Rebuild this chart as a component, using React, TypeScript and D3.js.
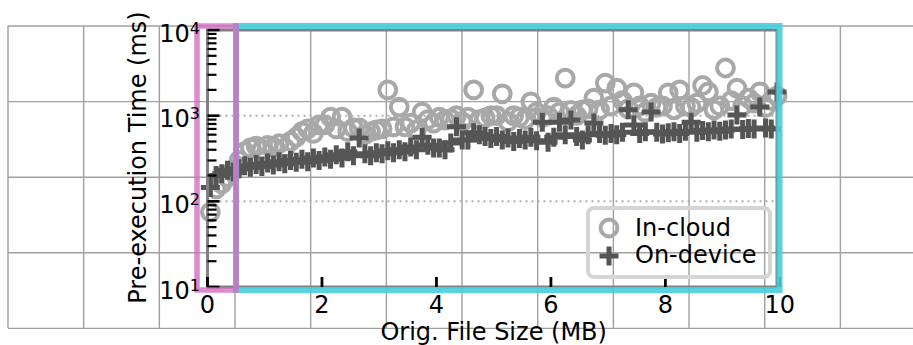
import * as d3 from "d3";

const fileSizeMB = [
  0.05, 0.15, 0.25, 0.35, 0.45, 0.55, 0.65, 0.75, 0.85, 0.95,
  1.05, 1.15, 1.25, 1.35, 1.45, 1.55, 1.65, 1.75, 1.85, 1.95,
  2.05, 2.15, 2.25, 2.35, 2.45, 2.55, 2.65, 2.75, 2.85, 2.95,
  3.05, 3.15, 3.25, 3.35, 3.45, 3.55, 3.65, 3.75, 3.85, 3.95,
  4.05, 4.15, 4.25, 4.35, 4.45, 4.55, 4.65, 4.75, 4.85, 4.95,
  5.05, 5.15, 5.25, 5.35, 5.45, 5.55, 5.65, 5.75, 5.85, 5.95,
  6.05, 6.15, 6.25, 6.35, 6.45, 6.55, 6.65, 6.75, 6.85, 6.95,
  7.05, 7.15, 7.25, 7.35, 7.45, 7.55, 7.65, 7.75, 7.85, 7.95,
  8.05, 8.15, 8.25, 8.35, 8.45, 8.55, 8.65, 8.75, 8.85, 8.95,
  9.05, 9.15, 9.25, 9.35, 9.45, 9.55, 9.65, 9.75, 9.85, 9.95,
];

const inCloudMs = [
  75, 140, 160, 190, 230, 300, 380, 420, 440, 400,
  450, 430, 470, 420, 500, 560, 650, 700, 620, 780,
  780, 960, 700, 960, 650, 720, 720, 600, 650, 680,
  700, 2000, 740, 1260, 740, 820, 680, 1100, 900, 820,
  960, 890, 920, 1000, 850, 960, 2000, 900, 940, 1000,
  1000, 1800, 850, 1000, 960, 900, 1450, 1100, 950, 1000,
  1260, 1100, 2750, 1150, 1000, 1170, 1200, 1600, 1170, 2400,
  1300, 2100, 1500, 1200, 1850, 1300, 1100, 1400, 1250, 1300,
  1850, 1170, 2000, 1300, 1250, 1400, 2250, 1900, 1170, 1300,
  3600, 1500, 2100, 1300, 1600, 1400, 1900, 1250, 1500, 1700,
];

const onDeviceMs = [
  145, 200, 210, 230, 220, 240, 260, 250, 270, 255,
  280, 265, 290, 275, 300, 285, 310, 290, 320, 300,
  330, 310, 350, 320, 380, 340, 550, 360, 340, 370,
  360, 390, 370, 400, 380, 430, 400, 560, 450, 420,
  420, 400, 480, 740, 520, 520, 630, 600, 570, 540,
  570, 520, 550, 500, 540, 520, 560, 510, 840, 490,
  560, 840, 600, 890, 570, 520, 600, 820, 620, 590,
  620, 600, 640, 1170, 780, 620, 650, 1100, 640, 610,
  630, 650, 620, 660, 840, 640, 670, 650, 680, 660,
  680, 700, 1020, 690, 710, 700, 1260, 720, 700, 1890,
];

const xTicks = [0, 2, 4, 6, 8, 10];
const yMajor = [10, 100, 1000, 10000];
const yExp = ["1", "2", "3", "4"];
const legendLabels = ["In-cloud", "On-device"];

// highlighted ranges, in data units
const pinkBox = [-0.183, 0.5];
const cyanBox = [0.5, 9.995];
const boxY = [9.2, 11100];

const W = 913;
const H = 345;
const FONT = "DejaVu Sans, sans-serif";
const CLOUD = "#a8a8a8";
const DEVICE = "#555555";

export default function App() {
  const x = d3.scaleLinear().domain([0, 9.95]).range([207.5, 777]);
  const y = d3.scaleLog().domain([10, 10000]).range([287, 30]);

  const minor: number[] = [];
  [10, 100, 1000].forEach((d) => {
    for (let k = 2; k < 10; k++) minor.push(d * k);
  });

  // background table grid behind the figure
  const gx = d3.range(8, 920, 75.67);
  const gy = d3.range(26, 330, 75.6);

  const plus = (cx: number, cy: number, s: number) =>
    `M${cx - s},${cy}H${cx + s}M${cx},${cy - s}V${cy + s}`;

  const rect = (bx: number[]) => {
    const x0 = x(bx[0]);
    const x1 = x(bx[1]);
    const y0 = y(boxY[1]);
    const y1 = y(boxY[0]);
    return `M${x0},${y0}H${x1}V${y1}H${x0}Z`;
  };

  const [x0, x1] = x.range();
  const [yb, yt] = y.range();

  return (
    <svg
      width={W}
      height={H}
      style={{ position: "absolute", left: 0, top: 0, background: "#fff" }}
      fontFamily={FONT}
    >
      <g stroke="#a0a0a0" strokeWidth={1.4}>
        {gx.map((v, i) => (
          <line key={"gx" + i} x1={v} x2={v} y1={26} y2={328} />
        ))}
        {gy.map((v, i) => (
          <line key={"gy" + i} x1={8} x2={W} y1={v} y2={v} />
        ))}
      </g>

      {[100, 1000].map((d) => (
        <line
          key={"dot" + d}
          x1={x0 + 12}
          x2={x1}
          y1={y(d)}
          y2={y(d)}
          stroke="#b0b0b0"
          strokeWidth={2}
          strokeDasharray="2,4"
        />
      ))}

      <g>
        {fileSizeMB.map((d, i) => (
          <circle
            key={"c" + i}
            cx={x(d)}
            cy={y(inCloudMs[i])}
            r={8.4}
            fill="none"
            stroke={CLOUD}
            strokeWidth={4}
          />
        ))}
      </g>
      <g>
        {fileSizeMB.map((d, i) => (
          <path
            key={"p" + i}
            d={plus(x(d), y(onDeviceMs[i]), 9.5)}
            stroke={DEVICE}
            strokeWidth={5}
            fill="none"
          />
        ))}
      </g>

      <rect
        x={x0}
        y={yt}
        width={x1 - x0}
        height={yb - yt}
        fill="none"
        stroke="#808080"
        strokeWidth={3}
      />

      <g stroke="#000">
        {minor.map((d) => (
          <line key={"mn" + d} x1={x0} x2={x0 + 9} y1={y(d)} y2={y(d)} strokeWidth={2.2} />
        ))}
        {yMajor.map((d) => (
          <line key={"mj" + d} x1={x0} x2={x0 + 12} y1={y(d)} y2={y(d)} strokeWidth={2.6} />
        ))}
        {xTicks.map((d) => (
          <line key={"xt" + d} x1={x(d)} x2={x(d)} y1={yb} y2={yb - 10} strokeWidth={2.8} />
        ))}
      </g>

      <path d={rect(cyanBox)} fill="none" stroke="#45cfdc" strokeOpacity={0.9} strokeWidth={6} />
      <path d={rect(pinkBox)} fill="none" stroke="#d56cc2" strokeOpacity={0.8} strokeWidth={5.5} />

      <g fontSize={24} fill="#000">
        {xTicks.map((d) => (
          <text key={"xl" + d} x={x(d)} y={313} textAnchor="middle">
            {d}
          </text>
        ))}
        {yMajor.map((d, i) => (
          <text key={"yl" + d} x={200} y={y(d) + 11.5} textAnchor="end">
            10
            <tspan fontSize={16} dy={-8}>
              {yExp[i]}
            </tspan>
          </text>
        ))}
        <text x={(x0 + x(10)) / 2} y={340} textAnchor="middle">
          Orig. File Size (MB)
        </text>
        <text transform={`translate(146,157.5) rotate(-90)`} textAnchor="middle">
          Pre-execution Time (ms)
        </text>
      </g>

      <g>
        <rect x={588} y={208} width={182} height={69} rx={6} fill="none" stroke="#d5d5d5" strokeWidth={4} />
        <circle cx={609} cy={228} r={8.4} fill="none" stroke={CLOUD} strokeWidth={4} />
        <path d={plus(609, 256, 9.5)} stroke={DEVICE} strokeWidth={5} />
        {legendLabels.map((l, i) => (
          <text key={l} x={635} y={236 + i * 27} fontSize={24} fill="#000">
            {l}
          </text>
        ))}
      </g>
    </svg>
  );
}
